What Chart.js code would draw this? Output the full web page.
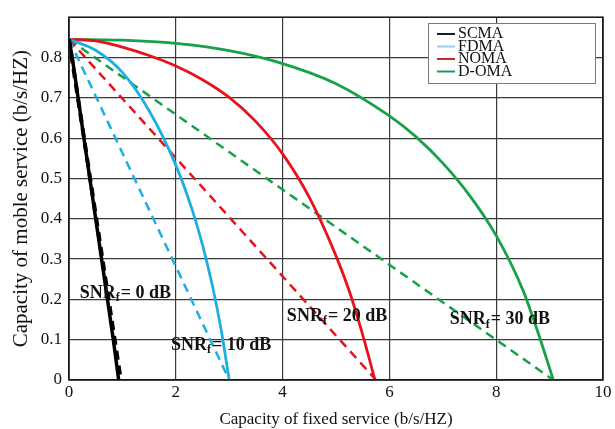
<!DOCTYPE html>
<html>
<head>
<meta charset="utf-8">
<script src="https://cdn.jsdelivr.net/npm/chart.js@4.4.0/dist/chart.umd.min.js"></script>
<style>
  html, body { margin: 0; padding: 0; background: #fff; overflow: hidden; }
</style>
</head>
<body>
<canvas id="capacityChart" width="615" height="440"></canvas>
<script>
// Capacity region: fixed service (x) vs mobile service (y)
const seriesNames = ['SCMA', 'FDMA', 'NOMA', 'D-OMA'];
const lineColors = ['#000000', '#1eaee3', '#e8121c', '#17a24a'];
const legendColors = ['#1c1c1c', '#9ccbec', '#c42a30', '#1a9a52'];

// solid curves
const scmaX = [0, 0.06, 0.17, 0.28, 0.39, 0.5, 0.61, 0.72, 0.83, 0.93];
const scmaY = [0.845, 0.8, 0.7, 0.6, 0.5, 0.4, 0.3, 0.2, 0.1, 0];
const fdmaX = [0, 0.5, 1, 1.5, 2, 2.3, 2.5, 2.7, 2.85, 3.0];
const fdmaY = [0.845, 0.818, 0.763, 0.668, 0.533, 0.425, 0.335, 0.225, 0.124, 0];
const nomaX = [0, 0.5, 1, 1.5, 2, 2.5, 3, 3.5, 4, 4.5, 5, 5.25, 5.5, 5.73];
const nomaY = [0.845, 0.841, 0.826, 0.805, 0.779, 0.745, 0.701, 0.641, 0.561, 0.453, 0.308, 0.22, 0.112, 0];
const domaX = [0, 1, 2, 3, 4, 5, 6, 6.5, 7, 7.5, 8, 8.5, 8.8, 9.07];
const domaY = [0.845, 0.843, 0.835, 0.817, 0.785, 0.735, 0.655, 0.603, 0.538, 0.458, 0.358, 0.223, 0.111, 0];

// dashed straight lines (same start point)
const dashEndX = [0.97, 3.0, 5.75, 9.07];
const startY = 0.845;

const xTickValues = [0, 2, 4, 6, 8, 10];
const yTickValues = [0, 0.1, 0.2, 0.3, 0.4, 0.5, 0.6, 0.7, 0.8];

// SNR labels: text, x, y (data units)
const snrLabels = ['0 dB', '10 dB', '20 dB', '30 dB'];
const snrLabelX = [0.2, 1.91, 4.08, 7.13];
const snrLabelY = [0.216, 0.087, 0.158, 0.15];

const serif = '"Liberation Serif", "DejaVu Serif", serif';

function pts(xs, ys) {
  return xs.map((x, i) => ({ x, y: ys[i] }));
}

const solidData = [pts(scmaX, scmaY), pts(fdmaX, fdmaY), pts(nomaX, nomaY), pts(domaX, domaY)];

const datasets = [];
seriesNames.forEach((name, i) => {
  datasets.push({
    label: name + ' dashed',
    data: [{ x: 0, y: startY }, { x: dashEndX[i], y: 0 }],
    borderColor: lineColors[i],
    borderWidth: i === 0 ? 4 : 2.5,
    borderDash: [9, 6],
    showLine: true,
    pointRadius: 0,
  });
  datasets.push({
    label: name,
    data: solidData[i],
    borderColor: lineColors[i],
    borderWidth: i === 0 ? 3.5 : 2.8,
    showLine: true,
    pointRadius: 0,
    cubicInterpolationMode: 'monotone',
  });
});

// plot frame, legend box and SNR labels
const decorations = {
  id: 'decorations',
  afterDatasetsDraw(chart) {
    const { ctx, chartArea: a, scales } = chart;
    ctx.save();
    ctx.strokeStyle = '#111';
    ctx.lineWidth = 1.5;
    ctx.strokeRect(a.left, a.top, a.right - a.left, a.bottom - a.top);

    // SNR_f annotations
    ctx.fillStyle = '#111';
    ctx.textBaseline = 'middle';
    ctx.textAlign = 'left';
    snrLabels.forEach((t, i) => {
      let px = scales.x.getPixelForValue(snrLabelX[i]);
      const py = scales.y.getPixelForValue(snrLabelY[i]);
      ctx.font = 'bold 18px ' + serif;
      ctx.fillText('SNR', px, py);
      px += ctx.measureText('SNR').width;
      ctx.font = 'bold 12px ' + serif;
      ctx.fillText('f', px, py + 5);
      px += ctx.measureText('f').width;
      ctx.font = 'bold 18px ' + serif;
      ctx.fillText('= ' + t, px + 1, py);
    });

    // legend
    const lx = 428, ly = 23, lw = 167, lh = 60;
    ctx.fillStyle = '#fff';
    ctx.fillRect(lx, ly, lw, lh);
    ctx.strokeStyle = '#7a7a7a';
    ctx.lineWidth = 1;
    ctx.strokeRect(lx + 0.5, ly + 0.5, lw, lh);
    ctx.font = '16px ' + serif;
    seriesNames.forEach((name, i) => {
      const y = ly + 11 + i * 12.5;
      ctx.strokeStyle = legendColors[i];
      ctx.lineWidth = 2;
      ctx.beginPath();
      ctx.moveTo(lx + 9, y);
      ctx.lineTo(lx + 27, y);
      ctx.stroke();
      ctx.fillStyle = '#111';
      ctx.fillText(name, lx + 30, y);
    });
    ctx.restore();
  },
};

new Chart(document.getElementById('capacityChart'), {
  type: 'scatter',
  data: { datasets },
  options: {
    responsive: false,
    animation: false,
    layout: { padding: { top: 11, right: 12, left: 0, bottom: 0 } },
    plugins: {
      legend: { display: false },
      tooltip: { enabled: false },
    },
    scales: {
      x: {
        type: 'linear',
        min: 0,
        max: 10,
        afterBuildTicks: (scale) => { scale.ticks = xTickValues.map((v) => ({ value: v })); },
        afterFit: (scale) => { scale.height = 60; },
        ticks: {
          color: '#111',
          font: { family: serif, size: 17 },
          padding: 2,
          maxRotation: 0,
          callback: (v) => String(v),
        },
        grid: { color: '#3a3a3a', lineWidth: 1.2, drawTicks: false },
        border: { display: false },
        title: {
          display: true,
          text: 'Capacity of fixed service (b/s/HZ)',
          color: '#111',
          font: { family: serif, size: 17 },
          padding: { top: 0, bottom: 10 },
        },
      },
      y: {
        type: 'linear',
        min: 0,
        max: 0.9,
        afterBuildTicks: (scale) => { scale.ticks = yTickValues.map((v) => ({ value: v })); },
        afterFit: (scale) => { scale.width = 69; },
        ticks: {
          color: '#111',
          font: { family: serif, size: 17 },
          padding: 7,
          callback: (v) => (v === 0 ? '0' : v.toFixed(1)),
        },
        grid: { color: '#3a3a3a', lineWidth: 1.2, drawTicks: false },
        border: { display: false },
        title: {
          display: true,
          text: 'Capacity of moble service (b/s/HZ)',
          color: '#111',
          font: { family: serif, size: 21 },
          padding: { top: 9, bottom: 0 },
        },
      },
    },
  },
  plugins: [decorations],
});
</script>
</body>
</html>
